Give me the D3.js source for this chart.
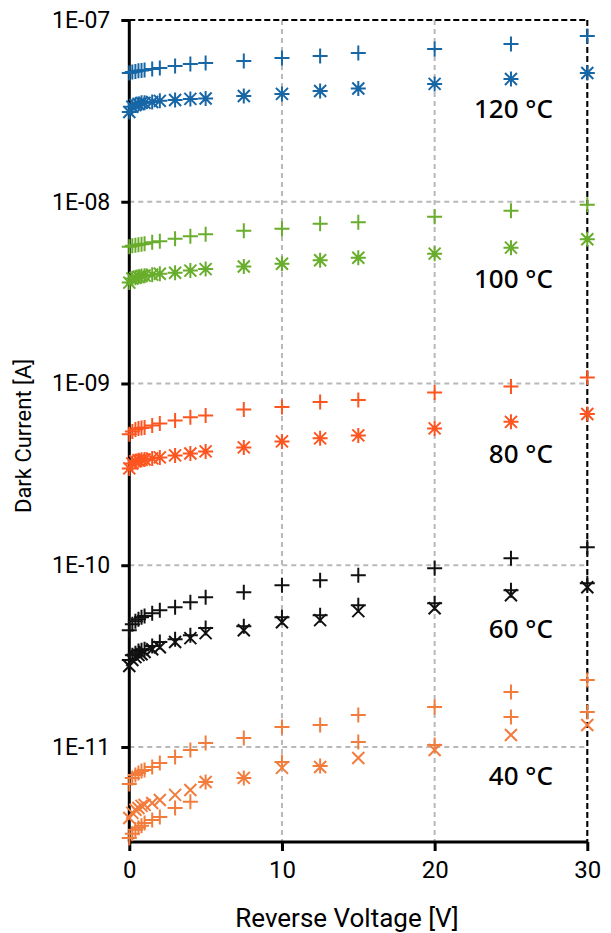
<!DOCTYPE html>
<html>
<head>
<meta charset="utf-8">
<script src="https://cdn.jsdelivr.net/npm/d3@7"></script>
<style>
  html, body { margin: 0; padding: 0; background: #fff; }
  svg { display: block; font-family: Roboto, "Noto Sans", sans-serif; }
</style>
</head>
<body>
<svg id="chart" width="611" height="933"></svg>
<script>
// ---------------- data ----------------
const voltages = [0, 0.2, 0.4, 0.6, 0.8, 1, 1.5, 2, 3, 4, 5, 7.5, 10, 12.5, 15, 20, 25, 30];

const plus120 = [5.11e-8,5.18e-8,5.21e-8,5.25e-8,5.28e-8,5.31e-8,5.38e-8,5.45e-8,5.59e-8,5.73e-8,5.80e-8,5.95e-8,6.18e-8,6.34e-8,6.59e-8,6.93e-8,7.38e-8,8.17e-8];
const star120 = [3.12e-8,3.33e-8,3.41e-8,3.45e-8,3.50e-8,3.50e-8,3.54e-8,3.59e-8,3.63e-8,3.68e-8,3.70e-8,3.82e-8,3.92e-8,4.07e-8,4.20e-8,4.45e-8,4.74e-8,5.11e-8];

const plus100 = [5.66e-9,5.73e-9,5.77e-9,5.80e-9,5.84e-9,5.88e-9,5.99e-9,6.07e-9,6.26e-9,6.46e-9,6.63e-9,6.93e-9,7.11e-9,7.57e-9,7.72e-9,8.27e-9,8.92e-9,9.63e-9];
const star100 = [3.59e-9,3.78e-9,3.82e-9,3.87e-9,3.90e-9,3.92e-9,3.97e-9,4.02e-9,4.07e-9,4.18e-9,4.26e-9,4.40e-9,4.56e-9,4.77e-9,4.92e-9,5.18e-9,5.59e-9,6.22e-9];

const plus80 = [5.25e-10,5.45e-10,5.59e-10,5.66e-10,5.69e-10,5.73e-10,5.88e-10,6.03e-10,6.26e-10,6.51e-10,6.67e-10,7.20e-10,7.43e-10,7.91e-10,8.12e-10,8.92e-10,9.63e-10,1.079e-9];
const star80 = [3.41e-10,3.63e-10,3.73e-10,3.78e-10,3.80e-10,3.82e-10,3.87e-10,3.92e-10,4.02e-10,4.12e-10,4.23e-10,4.45e-10,4.80e-10,4.99e-10,5.18e-10,5.66e-10,6.15e-10,6.80e-10];

const plusA60 = [4.39e-11,4.74e-11,4.92e-11,5.05e-11,5.18e-11,5.25e-11,5.45e-11,5.66e-11,5.88e-11,6.26e-11,6.67e-11,7.11e-11,7.76e-11,8.27e-11,8.81e-11,9.63e-11,1.093e-10,1.256e-10];
const plusB60 = [3.01e-11,3.20e-11,3.28e-11,3.37e-11,3.41e-11,3.45e-11,3.59e-11,3.78e-11,3.92e-11,4.12e-11,4.51e-11,4.62e-11,5.18e-11,5.31e-11,6.03e-11,6.18e-11,7.29e-11,7.96e-11];
const cross60 = [2.79e-11,3.01e-11,3.12e-11,3.20e-11,3.24e-11,3.33e-11,3.45e-11,3.54e-11,3.78e-11,3.97e-11,4.23e-11,4.39e-11,4.86e-11,4.99e-11,5.59e-11,5.80e-11,6.84e-11,7.57e-11];

const plusA40 = [6.26e-12,6.76e-12,7.02e-12,7.20e-12,7.38e-12,7.47e-12,7.76e-12,8.17e-12,8.81e-12,9.63e-12,1.052e-11,1.121e-11,1.288e-11,1.321e-11,1.499e-11,1.659e-11,2.005e-11,2.334e-11];
const plusB40 = [3.16e-12,3.33e-12,3.50e-12,3.59e-12,3.68e-12,3.82e-12,3.97e-12,4.12e-12,4.62e-12,4.99e-12,6.42e-12,6.76e-12,8.27e-12,7.86e-12,1.065e-11,1.025e-11,1.462e-11,1.557e-11];
const cross40 = [4.07e-12,4.34e-12,4.51e-12,4.62e-12,4.74e-12,4.80e-12,4.92e-12,5.11e-12,5.45e-12,5.80e-12,6.42e-12,6.76e-12,7.67e-12,7.76e-12,8.70e-12,9.63e-12,1.164e-11,1.321e-11];

const temperatureLabels = ["120 °C", "100 °C", "80 °C", "60 °C", "40 °C"];
const labelAnchorV = [27.75, 27.75, 27.75, 27.75, 27.75];
const labelAnchorI = [2.9e-8, 3.35e-9, 3.64e-10, 3.96e-11, 6.15e-12];

const xTicks = [0, 10, 20, 30];
const yTicks = [1e-11, 1e-10, 1e-9, 1e-8, 1e-7];
const yTickLabels = ["1E-11", "1E-10", "1E-09", "1E-08", "1E-07"];

const colors = { t120: "#1766a6", t100: "#68ad2b", t80: "#fd5520", t60: "#111111", t40: "#f27c3c" };

// series: values, marker type, colour
const series = [
  { v: plusA40, m: "plus", c: colors.t40 },
  { v: plusB40, m: "plus", c: colors.t40 },
  { v: cross40, m: "cross", c: colors.t40 },
  { v: plusA60, m: "plus", c: colors.t60 },
  { v: plusB60, m: "plus", c: colors.t60 },
  { v: cross60, m: "cross", c: colors.t60 },
  { v: plus80, m: "plus", c: colors.t80 },
  { v: star80, m: "star", c: colors.t80 },
  { v: plus100, m: "plus", c: colors.t100 },
  { v: star100, m: "star", c: colors.t100 },
  { v: plus120, m: "plus", c: colors.t120 },
  { v: star120, m: "star", c: colors.t120 }
];

// ---------------- drawing ----------------
const svg = d3.select("#chart");
const L = 129.3, R = 587.3, T = 20, B = 842;
const x = d3.scaleLinear().domain([0, 30]).range([L, R]);
const y = d3.scaleLog().domain([3e-12, 1e-7]).range([B, T]);

// grid
const grid = svg.append("g");
grid.selectAll("line.h").data(yTicks).join("line")
  .attr("x1", L).attr("x2", R).attr("y1", d => y(d)).attr("y2", d => y(d))
  .attr("stroke", "#b8b8b8").attr("stroke-width", 2).attr("stroke-dasharray", "5,4");
grid.selectAll("line.v").data(xTicks.filter(d => d > 0)).join("line")
  .attr("y1", T).attr("y2", B).attr("x1", d => x(d)).attr("x2", d => x(d))
  .attr("stroke", "#b8b8b8").attr("stroke-width", 2).attr("stroke-dasharray", "5,4");
// dashed frame top and right
svg.append("line").attr("x1", L).attr("x2", R).attr("y1", y(1e-7)).attr("y2", y(1e-7))
  .attr("stroke", "#000").attr("stroke-width", 2).attr("stroke-dasharray", "6,3");
svg.append("line").attr("x1", x(30)).attr("x2", x(30)).attr("y1", T).attr("y2", B)
  .attr("stroke", "#000").attr("stroke-width", 2).attr("stroke-dasharray", "6,3");

// axes
const fmtY = d => yTickLabels[yTicks.indexOf(d)];
const yAxis = svg.append("g").attr("transform", `translate(${L},0)`)
  .call(d3.axisLeft(y).tickValues(yTicks).tickFormat(fmtY).tickSize(8).tickPadding(11));
const xAxis = svg.append("g").attr("transform", `translate(0,${B})`)
  .call(d3.axisBottom(x).tickValues(xTicks).tickFormat(d3.format("d")).tickSize(9).tickPadding(10));
[yAxis, xAxis].forEach(a => {
  a.select(".domain").attr("stroke", "#000").attr("stroke-width", 3);
  a.selectAll(".tick line").attr("stroke", "#000").attr("stroke-width", 3);
  a.selectAll(".tick text").attr("fill", "#000").style("font-family", "Roboto, sans-serif");
});
yAxis.selectAll(".tick text").style("font-size", "23px");
xAxis.selectAll(".tick text").style("font-size", "24px");
yAxis.select(".domain").attr("d", `M0,${B}V${T}`);
xAxis.select(".domain").attr("d", `M${L},0H${R}`);

// axis titles
svg.append("text").attr("x", 347).attr("y", 927).attr("text-anchor", "middle")
  .style("font-size", "26px").attr("fill", "#000").text("Reverse Voltage [V]");
svg.append("text").attr("transform", "translate(31,436) rotate(-90)").attr("text-anchor", "middle")
  .style("font-size", "22px").attr("fill", "#000").text("Dark Current [A]");

// markers
const sp = 7.5, sx = 6;
const shape = {
  plus: `M${-sp},0H${sp}M0,${-sp}V${sp}`,
  cross: `M${-sx},${-sx}L${sx},${sx}M${-sx},${sx}L${sx},${-sx}`,
  star: `M${-sp},0H${sp}M0,${-sp}V${sp}M${-sx},${-sx}L${sx},${sx}M${-sx},${sx}L${sx},${-sx}`
};
const marks = svg.append("g");
series.forEach(s => {
  marks.append("g").selectAll("path").data(voltages.map((v, i) => [v, s.v[i]])).join("path")
    .attr("transform", d => `translate(${x(d[0])},${y(d[1])})`)
    .attr("d", shape[s.m]).attr("fill", "none").attr("stroke", s.c).attr("stroke-width", 2);
});

// temperature labels
svg.append("g").selectAll("text").data(temperatureLabels).join("text")
  .attr("x", (d, i) => x(labelAnchorV[i])).attr("y", (d, i) => y(labelAnchorI[i]))
  .attr("text-anchor", "end").style("font-size", "26px").style("font-weight", "500").attr("fill", "#000")
  .style("font-family", "'Noto Sans', sans-serif").text(d => d);
</script>
</body>
</html>
